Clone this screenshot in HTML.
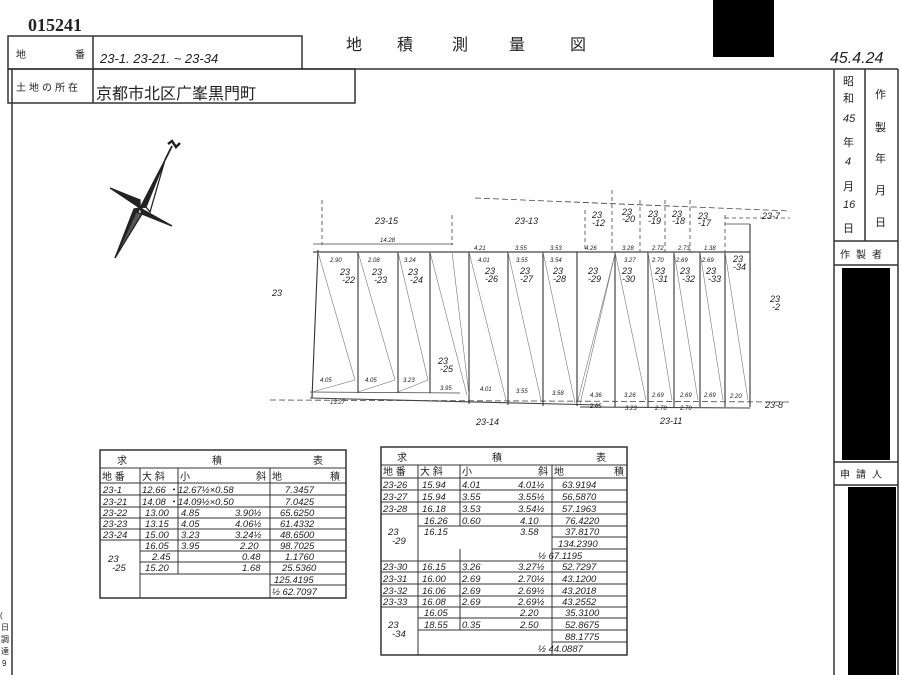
<!DOCTYPE html>
<html><head><meta charset="utf-8"><style>
html,body{margin:0;padding:0;background:#fff;}
svg{display:block;}
text{font-family:"Liberation Sans","Noto Sans CJK JP",sans-serif;fill:#222;}
.h{font-style:italic;font-size:10px;}
.s{font-style:italic;font-size:6px;}
.t{font-family:"Liberation Serif","Noto Serif CJK SC",serif;}
</style></head><body>
<svg width="902" height="675" viewBox="0 0 902 675" xmlns="http://www.w3.org/2000/svg">
<rect width="902" height="675" fill="#fff"/>
<text x="28" y="31" style="font-size:18px;font-weight:bold;font-family:'Liberation Serif',serif">015241</text>
<rect x="713" y="0" width="61" height="57" fill="#000"/>
<text x="830" y="63" style="font-style:italic;font-size:16px">45.4.24</text>
<g stroke="#333" stroke-width="1.5" fill="none">
<rect x="8" y="36" width="294" height="33"/>
<line x1="93" y1="36" x2="93" y2="103"/>
<rect x="8" y="69" width="347" height="34"/>
<line x1="302" y1="69" x2="898" y2="69"/>
<line x1="12" y1="69" x2="12" y2="675"/>
<line x1="834" y1="69" x2="834" y2="675"/>
<line x1="898" y1="69" x2="898" y2="675"/>
<line x1="865" y1="69" x2="865" y2="241"/>
<line x1="834" y1="241" x2="898" y2="241"/>
<line x1="834" y1="265" x2="898" y2="265"/>
<line x1="834" y1="462" x2="898" y2="462"/>
<line x1="834" y1="485" x2="898" y2="485"/>
</g>
<text x="16" y="58" font-size="10">地</text><text x="75" y="58" font-size="10">番</text>
<text x="100" y="63" style="font-style:italic;font-size:13px">23-1. 23-21. ~ 23-34</text>
<text x="16" y="91" font-size="10" letter-spacing="3">土地の所在</text>
<text x="96" y="99" style="font-size:16px">京都市北区广峯黒門町</text>
<g class="t"><text x="346" y="50" font-size="16">地</text><text x="397" y="50" font-size="16">積</text><text x="452" y="50" font-size="16">測</text><text x="509" y="50" font-size="16">量</text><text x="570" y="50" font-size="16">図</text></g>
<g font-size="11" class="t">
<text x="843" y="85">昭</text><text x="843" y="102">和</text><text x="843" y="122" style="font-style:italic">45</text>
<text x="843" y="146">年</text><text x="845" y="165" style="font-style:italic">4</text><text x="843" y="190">月</text>
<text x="843" y="208" style="font-style:italic">16</text><text x="843" y="232">日</text>
<text x="875" y="98">作</text><text x="875" y="131">製</text><text x="875" y="162">年</text><text x="875" y="194">月</text><text x="875" y="226">日</text>
<text x="840" y="258" font-size="10" letter-spacing="6">作製者</text>
<text x="840" y="478" font-size="10" letter-spacing="6">申請人</text>
</g>
<rect x="842" y="268" width="48" height="192" fill="#000"/>
<rect x="848" y="487" width="48" height="188" fill="#000"/>
<text x="0" y="618" font-size="8">(</text><text x="1" y="630" font-size="8">日</text><text x="1" y="642" font-size="8">調</text><text x="1" y="654" font-size="8">達</text><text x="2" y="666" font-size="8">9</text>
<g fill="#222" stroke="#222" stroke-width="1.3">
<polygon points="165,160 146,207 140,208"/>
<polygon points="165,160 146,207 150,212" fill="#fff"/>
<polygon points="115,258 134,209 140,208"/>
<polygon points="115,258 136,212 142,214" fill="#555"/>
<polygon points="110,188 140,200 140,208"/>
<polygon points="172,226 142,214 140,208"/>
<line x1="165" y1="160" x2="172" y2="146" stroke-width="1.8"/>
<path d="M168,144 l4,-3 l4,6 l4,-4" fill="none" stroke-width="2.5"/>
</g>
<g stroke="#444" fill="none" stroke-width="0.8">
<line x1="313" y1="252" x2="750" y2="252" stroke-width="1.2"/>
<line x1="313" y1="244" x2="453" y2="244"/>
<line x1="270" y1="400" x2="790" y2="402" stroke-dasharray="6,3"/>
<line x1="310" y1="392" x2="460" y2="393"/>
<line x1="310" y1="398" x2="600" y2="405" stroke-width="1.1"/>
<line x1="580" y1="407" x2="750" y2="408" stroke-width="1.1"/>
<line x1="475" y1="198" x2="790" y2="211" stroke-dasharray="6,3"/>
<line x1="725" y1="218" x2="790" y2="218" stroke-dasharray="4,3"/>
<line x1="725" y1="224" x2="750" y2="224"/>
<line x1="322" y1="200" x2="322" y2="245" stroke-dasharray="4,3"/>
<line x1="452" y1="215" x2="452" y2="245" stroke-dasharray="4,3"/>
<line x1="585" y1="210" x2="585" y2="252" stroke-dasharray="4,3"/>
<line x1="612" y1="190" x2="612" y2="252" stroke-dasharray="4,3"/>
<line x1="640" y1="200" x2="640" y2="252" stroke-dasharray="4,3"/>
<line x1="665" y1="200" x2="665" y2="252" stroke-dasharray="4,3"/>
<line x1="690" y1="200" x2="690" y2="252" stroke-dasharray="4,3"/>
<line x1="725" y1="215" x2="725" y2="252" stroke-dasharray="4,3"/>
<g stroke="#333" stroke-width="1.1">
<line x1="318" y1="250" x2="312" y2="398"/>
<line x1="358" y1="252" x2="358" y2="393"/>
<line x1="398" y1="252" x2="398" y2="393"/>
<line x1="430" y1="252" x2="430" y2="393"/>
<line x1="469" y1="252" x2="469" y2="404"/>
<line x1="508" y1="252" x2="508" y2="405"/>
<line x1="543" y1="252" x2="543" y2="406"/>
<line x1="577" y1="252" x2="577" y2="406"/>
<line x1="615" y1="252" x2="615" y2="407"/>
<line x1="648" y1="252" x2="648" y2="407"/>
<line x1="674" y1="252" x2="674" y2="407"/>
<line x1="700" y1="252" x2="700" y2="407"/>
<line x1="725" y1="252" x2="725" y2="407"/>
<line x1="750" y1="224" x2="750" y2="407"/>
</g>
<g stroke="#777" stroke-width="0.6">
<line x1="318" y1="252" x2="355" y2="380"/><line x1="312" y1="392" x2="355" y2="380"/>
<line x1="358" y1="252" x2="395" y2="380"/><line x1="358" y1="392" x2="395" y2="380"/>
<line x1="398" y1="252" x2="428" y2="380"/><line x1="398" y1="392" x2="428" y2="380"/>
<line x1="430" y1="252" x2="467" y2="395"/>
<line x1="452" y1="252" x2="469" y2="395"/>
<line x1="469" y1="252" x2="506" y2="400"/>
<line x1="508" y1="252" x2="541" y2="400"/>
<line x1="543" y1="252" x2="575" y2="403"/>
<line x1="577" y1="404" x2="615" y2="254"/><line x1="580" y1="404" x2="615" y2="254"/>
<line x1="615" y1="252" x2="646" y2="400"/>
<line x1="648" y1="252" x2="672" y2="400"/>
<line x1="674" y1="252" x2="698" y2="400"/>
<line x1="700" y1="252" x2="723" y2="400"/>
<line x1="725" y1="252" x2="748" y2="400"/>
</g>
</g>
<g class="h" style="font-size:9px">
<text x="375" y="224">23-15</text><text x="515" y="224">23-13</text>
<text x="592" y="218">23</text><text x="592" y="226">-12</text>
<text x="622" y="215">23</text><text x="622" y="222">-20</text>
<text x="648" y="217">23</text><text x="648" y="224">-19</text>
<text x="672" y="217">23</text><text x="672" y="224">-18</text>
<text x="698" y="219">23</text><text x="698" y="226">-17</text>
<text x="762" y="219">23-7</text>
<text x="272" y="296">23</text><text x="770" y="302">23</text><text x="772" y="310">-2</text>
<text x="340" y="275">23</text><text x="342" y="283">-22</text>
<text x="372" y="275">23</text><text x="374" y="283">-23</text>
<text x="408" y="275">23</text><text x="410" y="283">-24</text>
<text x="485" y="274">23</text><text x="485" y="282">-26</text>
<text x="520" y="274">23</text><text x="520" y="282">-27</text>
<text x="553" y="274">23</text><text x="553" y="282">-28</text>
<text x="588" y="274">23</text><text x="588" y="282">-29</text>
<text x="622" y="274">23</text><text x="622" y="282">-30</text>
<text x="655" y="274">23</text><text x="655" y="282">-31</text>
<text x="680" y="274">23</text><text x="682" y="282">-32</text>
<text x="706" y="274">23</text><text x="708" y="282">-33</text>
<text x="733" y="262">23</text><text x="733" y="270">-34</text>
<text x="438" y="364">23</text><text x="440" y="372">-25</text>
<text x="476" y="425">23-14</text><text x="660" y="424">23-11</text><text x="765" y="408">23-8</text>
</g>
<g class="s">
<text x="380" y="242">14.28</text><text x="474" y="250">4.21</text><text x="515" y="250">3.55</text><text x="550" y="250">3.53</text><text x="585" y="250">4.26</text><text x="622" y="250">3.28</text><text x="652" y="250">2.72</text><text x="678" y="250">2.73</text><text x="704" y="250">1.38</text>
<text x="330" y="262">2.90</text><text x="368" y="262">2.08</text><text x="404" y="262">3.24</text><text x="478" y="262">4.01</text><text x="516" y="262">3.55</text><text x="550" y="262">3.54</text><text x="624" y="262">3.27</text><text x="652" y="262">2.70</text><text x="676" y="262">2.69</text><text x="702" y="262">2.69</text>
<text x="320" y="382">4.05</text><text x="365" y="382">4.05</text><text x="403" y="382">3.23</text><text x="440" y="390">3.95</text><text x="480" y="391">4.01</text><text x="516" y="393">3.55</text><text x="552" y="395">3.58</text><text x="590" y="397">4.36</text><text x="624" y="397">3.26</text><text x="652" y="397">2.69</text><text x="680" y="397">2.69</text><text x="704" y="397">2.69</text><text x="730" y="398">2.20</text>
<text x="330" y="404">13.27</text><text x="590" y="408">2.65</text><text x="625" y="410">3.23</text><text x="655" y="410">2.78</text><text x="680" y="410">2.70</text>
</g>
<g stroke="#333" stroke-width="1" fill="none">
<rect x="100" y="450" width="246" height="148" stroke-width="1.5"/>
<line x1="100" y1="468" x2="346" y2="468"/>
<line x1="100" y1="483" x2="346" y2="483"/>
<line x1="100" y1="495" x2="346" y2="495"/><line x1="100" y1="507" x2="346" y2="507"/><line x1="100" y1="518" x2="346" y2="518"/><line x1="100" y1="529" x2="346" y2="529"/><line x1="100" y1="540" x2="346" y2="540"/>
<line x1="140" y1="551" x2="346" y2="551"/><line x1="140" y1="562" x2="346" y2="562"/><line x1="140" y1="574" x2="346" y2="574"/><line x1="270" y1="585" x2="346" y2="585"/>
<line x1="140" y1="468" x2="140" y2="598"/>
<line x1="178" y1="468" x2="178" y2="574"/>
<line x1="270" y1="468" x2="270" y2="598"/>
</g>
<g font-size="10"><text x="117" y="464">求</text><text x="212" y="464">積</text><text x="313" y="464">表</text>
<text x="102" y="480">地 番</text><text x="142" y="480">大 斜</text><text x="180" y="480">小</text><text x="256" y="480">斜</text><text x="272" y="480">地</text><text x="330" y="480">積</text></g>
<g class="h" style="font-size:9.5px">
<text x="103" y="493">23-1</text><text x="142" y="493">12.66 ・12.67½×0.58</text><text x="285" y="493">7.3457</text>
<text x="103" y="505">23-21</text><text x="142" y="505">14.08 ・14.09½×0.50</text><text x="285" y="505">7.0425</text>
<text x="103" y="516">23-22</text><text x="145" y="516">13.00</text><text x="181" y="516">4.85</text><text x="235" y="516">3.90½</text><text x="280" y="516">65.6250</text>
<text x="103" y="527">23-23</text><text x="145" y="527">13.15</text><text x="181" y="527">4.05</text><text x="235" y="527">4.06½</text><text x="280" y="527">61.4332</text>
<text x="103" y="538">23-24</text><text x="145" y="538">15.00</text><text x="181" y="538">3.23</text><text x="235" y="538">3.24½</text><text x="280" y="538">48.6500</text>
<text x="145" y="549">16.05</text><text x="181" y="549">3.95</text><text x="240" y="549">2.20</text><text x="280" y="549">98.7025</text>
<text x="152" y="560">2.45</text><text x="242" y="560">0.48</text><text x="285" y="560">1.1760</text>
<text x="108" y="562">23</text><text x="112" y="571">-25</text>
<text x="145" y="571">15.20</text><text x="242" y="571">1.68</text><text x="282" y="571">25.5360</text>
<text x="274" y="583">125.4195</text><text x="272" y="595">½ 62.7097</text>
</g>
<g stroke="#333" stroke-width="1" fill="none">
<rect x="381" y="447" width="246" height="208" stroke-width="1.5"/>
<line x1="381" y1="465" x2="627" y2="465"/>
<line x1="381" y1="478" x2="627" y2="478"/><line x1="381" y1="490" x2="627" y2="490"/><line x1="381" y1="502" x2="627" y2="502"/><line x1="381" y1="514" x2="627" y2="514"/>
<line x1="418" y1="526" x2="627" y2="526"/><line x1="552" y1="537" x2="627" y2="537"/><line x1="552" y1="549" x2="627" y2="549"/>
<line x1="381" y1="561" x2="627" y2="561"/><line x1="381" y1="572" x2="627" y2="572"/><line x1="381" y1="584" x2="627" y2="584"/><line x1="381" y1="596" x2="627" y2="596"/><line x1="381" y1="607" x2="627" y2="607"/>
<line x1="418" y1="618" x2="627" y2="618"/><line x1="418" y1="630" x2="627" y2="630"/><line x1="552" y1="642" x2="627" y2="642"/>
<line x1="418" y1="465" x2="418" y2="655"/>
<line x1="460" y1="465" x2="460" y2="526"/><line x1="460" y1="549" x2="460" y2="630"/>
<line x1="552" y1="465" x2="552" y2="655"/>
</g>
<g font-size="10"><text x="397" y="461">求</text><text x="492" y="461">積</text><text x="596" y="461">表</text>
<text x="383" y="475">地 番</text><text x="420" y="475">大 斜</text><text x="462" y="475">小</text><text x="538" y="475">斜</text><text x="554" y="475">地</text><text x="614" y="475">積</text></g>
<g class="h" style="font-size:9.5px">
<text x="383" y="488">23-26</text><text x="422" y="488">15.94</text><text x="462" y="488">4.01</text><text x="518" y="488">4.01½</text><text x="562" y="488">63.9194</text>
<text x="383" y="500">23-27</text><text x="422" y="500">15.94</text><text x="462" y="500">3.55</text><text x="518" y="500">3.55½</text><text x="562" y="500">56.5870</text>
<text x="383" y="512">23-28</text><text x="422" y="512">16.18</text><text x="462" y="512">3.53</text><text x="518" y="512">3.54½</text><text x="562" y="512">57.1963</text>
<text x="424" y="524">16.26</text><text x="462" y="524">0.60</text><text x="520" y="524">4.10</text><text x="565" y="524">76.4220</text>
<text x="424" y="535">16.15</text><text x="520" y="535">3.58</text><text x="565" y="535">37.8170</text>
<text x="388" y="535">23</text><text x="392" y="544">-29</text>
<text x="558" y="547">134.2390</text><text x="538" y="559">½  67.1195</text>
<text x="383" y="570">23-30</text><text x="422" y="570">16.15</text><text x="462" y="570">3.26</text><text x="518" y="570">3.27½</text><text x="562" y="570">52.7297</text>
<text x="383" y="582">23-31</text><text x="422" y="582">16.00</text><text x="462" y="582">2.69</text><text x="518" y="582">2.70½</text><text x="562" y="582">43.1200</text>
<text x="383" y="594">23-32</text><text x="422" y="594">16.06</text><text x="462" y="594">2.69</text><text x="518" y="594">2.69½</text><text x="562" y="594">43.2018</text>
<text x="383" y="605">23-33</text><text x="422" y="605">16.08</text><text x="462" y="605">2.69</text><text x="518" y="605">2.69½</text><text x="562" y="605">43.2552</text>
<text x="424" y="616">16.05</text><text x="520" y="616">2.20</text><text x="565" y="616">35.3100</text>
<text x="388" y="628">23</text><text x="392" y="637">-34</text>
<text x="424" y="628">18.55</text><text x="462" y="628">0.35</text><text x="520" y="628">2.50</text><text x="565" y="628">52.8675</text>
<text x="565" y="640">88.1775</text><text x="538" y="652">½  44.0887</text>
</g>
</svg>
</body></html>
